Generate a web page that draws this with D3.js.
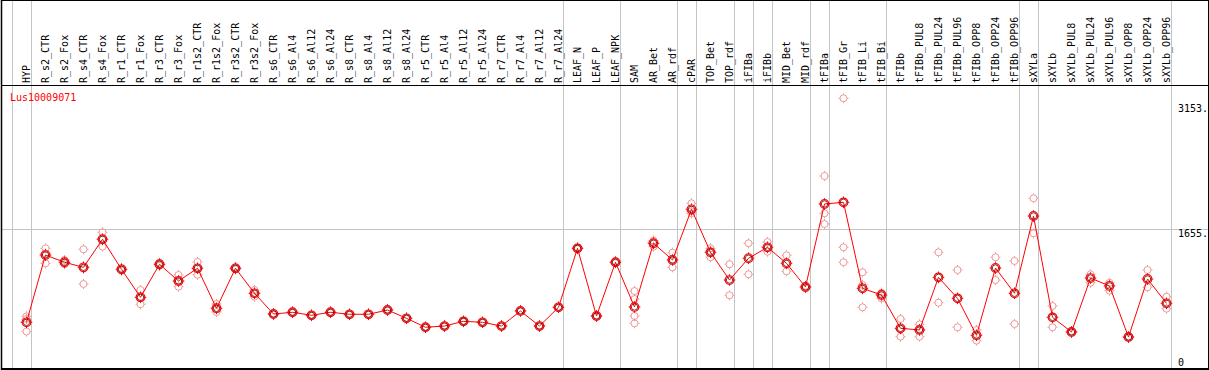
<!DOCTYPE html>
<html>
<head>
<meta charset="utf-8">
<script src="https://cdn.jsdelivr.net/npm/d3@7"></script>
<style>
  body { margin: 0; background: #fff; }
  svg { display: block; }
  text { font-family: "DejaVu Sans Mono", monospace; font-size: 10px; }
</style>
</head>
<body>
<div id="chart"></div>
<script>
const W = 1209, H = 370

const samples = ["HYP","R_s2_CTR","R_s2_Fox","R_s4_CTR","R_s4_Fox","R_r1_CTR","R_r1_Fox","R_r3_CTR","R_r3_Fox",
  "R_r1s2_CTR","R_r1s2_Fox","R_r3s2_CTR","R_r3s2_Fox","R_s6_CTR","R_s6_Al4","R_s6_Al12","R_s6_Al24",
  "R_s8_CTR","R_s8_Al4","R_s8_Al12","R_s8_Al24","R_r5_CTR","R_r5_Al4","R_r5_Al12","R_r5_Al24",
  "R_r7_CTR","R_r7_Al4","R_r7_Al12","R_r7_Al24","LEAF_N","LEAF_P","LEAF_NPK","SAM","AR_Bet","AR_rdf",
  "cPAR","TOP_Bet","TOP_rdf","iFIBa","iFIBb","MID_Bet","MID_rdf","tFIBa","tFIB_Gr","tFIB_Li","tFIB_Bi",
  "tFIBb","tFIBb_PUL8","tFIBb_PUL24","tFIBb_PUL96","tFIBb_OPP8","tFIBb_OPP24","tFIBb_OPP96",
  "sXYLa","sXYLb","sXYLb_PUL8","sXYLb_PUL24","sXYLb_PUL96","sXYLb_OPP8","sXYLb_OPP24","sXYLb_OPP96"]

// mean expression per sample
const means = [582,1354,1271,1213,1535,1190,869,1248,1056,1202,743,1202,915,677,697,662,697,
  674,674,723,628,525,539,593,582,539,712,539,754,1431,654,1271,758,1489,1297,
  1879,1385,1067,1317,1443,1259,987,1940,1959,972,895,
  513,494,1098,857,433,1205,915,1802,639,471,1090,999,413,1079,800]

// replicate values per sample
const replicates = [
  [650,620,476],[1431,1372,1259],[1297,1268,1248],[1420,1197,1022],[1615,1540,1450],
  [1205,1190,1175],[953,865,789],[1265,1248,1231],[1125,1052,991],[1274,1204,1128],
  [792,737,700],[1215,1202,1189],[953,916,876],[684,677,670],[704,697,690],
  [669,662,655],[704,697,690],[681,674,667],[681,674,667],[730,723,716],
  [635,628,621],[532,525,518],[546,539,532],[600,593,586],[589,582,575],
  [546,539,532],[719,712,705],[546,539,532],[761,754,747],[1440,1431,1422],
  [661,654,647],[1280,1271,1262],[941,849,654,570],[1520,1497,1450],[1381,1297,1213],
  [1948,1856,1833],[1431,1396,1328],[1248,892],[1489,1133],[1504,1433,1392],
  [1351,1167],[1000,987,975],[2261,1833,1710],[3153,1443,1271],[1156,1010,754],
  [922,906,857],[620,503,417],[559,506,417],[1385,807],[1182,525],
  [494,371],[1328,1067],[1286,562],[2005,1603],[769,525],
  [480,471,462],[1133,1036],[1036,945],[420,413,406],[1182,984],[876,738]]

// index of last sample in each group (gray separators)
const groupEnds = [0,28,31,34,35,37,38,39,41,42,45,52,53,60]
const axisTicks = [3153, 1655, 0]
const geneName = "Lus10009071"

const x = d3.scalePoint().domain(samples).range([26.5, 1166.5])
const y = d3.scaleLinear().domain([0, 3153]).range([373, 98.3])

const svg = d3.select("#chart").append("svg")
  .attr("width", W).attr("height", H)

svg.append("rect").attr("width", W).attr("height", H).attr("fill", "#fff")

// gray separators
const seps = [x(samples[0]) - 15].concat(groupEnds.map(i => x(samples[i]) + 4.5))
svg.selectAll(".vsep").data(seps).enter().append("line")
  .attr("class", "vsep")
  .attr("x1", d => Math.round(d) + 0.5).attr("x2", d => Math.round(d) + 0.5)
  .attr("y1", 0).attr("y2", H)
  .attr("stroke", "#c4c4c4").attr("stroke-width", 1)

svg.append("line")
  .attr("x1", 2).attr("x2", 1208)
  .attr("y1", Math.round(y(1655)) + 0.5).attr("y2", Math.round(y(1655)) + 0.5)
  .attr("stroke", "#c4c4c4").attr("stroke-width", 1)

// frame
svg.append("line").attr("x1", 1).attr("x2", 1209).attr("y1", 0.5).attr("y2", 0.5).attr("stroke", "#000")
svg.append("line").attr("x1", 1).attr("x2", 1209).attr("y1", 85.5).attr("y2", 85.5).attr("stroke", "#000")
svg.append("line").attr("x1", 1).attr("x2", 1209).attr("y1", 369).attr("y2", 369).attr("stroke", "#000").attr("stroke-width", 2)
svg.append("line").attr("x1", 1.5).attr("x2", 1.5).attr("y1", 0).attr("y2", H).attr("stroke", "#000").attr("stroke-width", 1.5)
svg.append("line").attr("x1", 1208.5).attr("x2", 1208.5).attr("y1", 0).attr("y2", H).attr("stroke", "#000")

// sample labels
svg.selectAll(".lab").data(samples).enter().append("text")
  .attr("class", "lab")
  .attr("transform", d => `translate(${x(d) + 3.5},83) rotate(-90)`)
  .text(d => d)

// right axis labels
svg.selectAll(".ylab").data(axisTicks).enter().append("text")
  .attr("class", "ylab")
  .attr("x", 1178)
  .attr("y", d => Math.min(Math.max(y(d) + 8, 111.5), 366))
  .text(d => d === 0 ? "0" : d + ".")

svg.append("text").attr("x", 10).attr("y", 101).attr("fill", "#f00").text(geneName)

function marker(g, r, color, w) {
  g.append("circle").attr("r", r).attr("fill", "none").attr("stroke", color).attr("stroke-width", w)
  const t = [[0, -1], [0, 1], [-1, 0], [1, 0]]
  t.forEach(([dx, dy]) => {
    g.append("line")
      .attr("x1", dx * r).attr("y1", dy * r)
      .attr("x2", dx * (r + 1.5)).attr("y2", dy * (r + 1.5))
      .attr("stroke", color).attr("stroke-width", 1)
  })
}

// replicates
const repPts = []
replicates.forEach((arr, i) => arr.forEach(v => repPts.push({ s: samples[i], v })))
svg.selectAll(".rep").data(repPts).enter().append("g")
  .attr("class", "rep")
  .attr("transform", d => `translate(${x(d.s)},${y(d.v)})`)
  .each(function () { marker(d3.select(this), 3.5, "#ef9a9a", 1) })

// mean line
const line = d3.line().x((d, i) => x(samples[i])).y(d => y(d))
svg.append("path").datum(means)
  .attr("d", line).attr("fill", "none").attr("stroke", "#f00").attr("stroke-width", 1)

const mg = svg.selectAll(".mean").data(means).enter().append("g")
  .attr("class", "mean")
  .attr("transform", (d, i) => `translate(${x(samples[i])},${y(d)})`)
mg.each(function () {
  const g = d3.select(this)
  marker(g, 4.3, "#f00", 1.2)
  g.append("circle").attr("r", 3.2).attr("fill", "none").attr("stroke", "#600").attr("stroke-width", 0.8)
})
</script>
</body>
</html>
